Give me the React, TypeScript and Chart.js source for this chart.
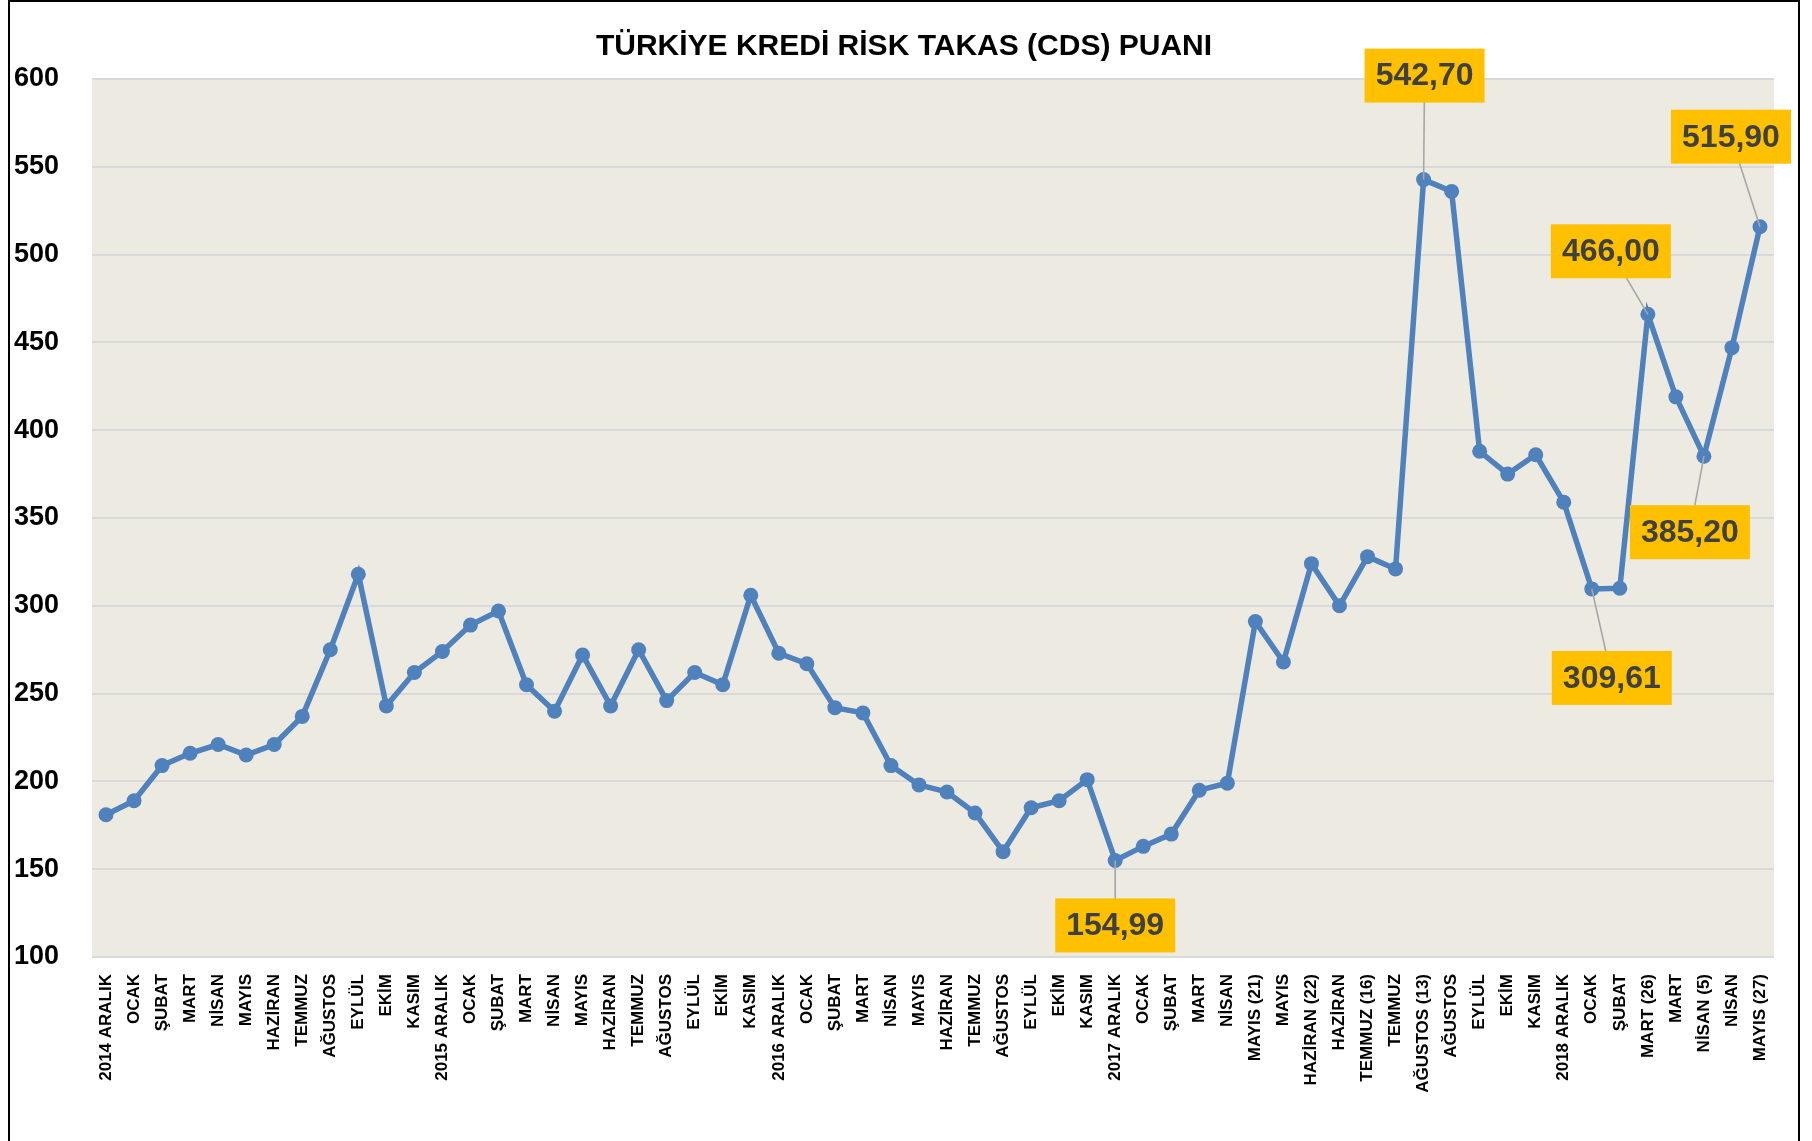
import React, { useEffect, useRef } from "react";
import { Chart, registerables } from "chart.js";

Chart.register(...registerables);

const categories: string[] = [
  "2014 ARALIK", "OCAK", "ŞUBAT", "MART", "NİSAN", "MAYIS", "HAZİRAN", "TEMMUZ", "AĞUSTOS", "EYLÜL", "EKİM", "KASIM",
  "2015 ARALIK", "OCAK", "ŞUBAT", "MART", "NİSAN", "MAYIS", "HAZİRAN", "TEMMUZ", "AĞUSTOS", "EYLÜL", "EKİM", "KASIM",
  "2016 ARALIK", "OCAK", "ŞUBAT", "MART", "NİSAN", "MAYIS", "HAZİRAN", "TEMMUZ", "AĞUSTOS", "EYLÜL", "EKİM", "KASIM",
  "2017 ARALIK", "OCAK", "ŞUBAT", "MART", "NİSAN", "MAYIS (21)", "MAYIS", "HAZİRAN (22)", "HAZİRAN", "TEMMUZ (16)", "TEMMUZ",
  "AĞUSTOS (13)", "AĞUSTOS", "EYLÜL", "EKİM", "KASIM",
  "2018 ARALIK", "OCAK", "ŞUBAT", "MART (26)", "MART", "NİSAN (5)", "NİSAN", "MAYIS (27)",
];

const cdsValues: number[] = [
  181, 189, 209, 216, 221, 215, 221, 237, 275, 318, 243, 262,
  274, 289, 297, 255, 240, 272, 243, 275, 246, 262, 255, 306,
  273, 267, 242, 239, 209, 198, 194, 182, 160, 185, 189, 201,
  154.99, 163, 170, 195, 199, 291, 268, 324, 300, 328, 321,
  542.7, 536, 388, 375, 386,
  359, 309.61, 310, 466.0, 419, 385.2, 447, 515.9,
];

const yTicks = { min: 100, max: 600, step: 50 };

const chartTitle = "TÜRKİYE KREDİ RİSK TAKAS (CDS) PUANI";

// annotated point indices and their label offsets (px) from the point
const calloutIndex: number[] = [36, 47, 53, 55, 57, 59];
const calloutDx: number[] = [0, 1, 20, -37, -14, -29];
const calloutDy: number[] = [65, -104, 89, -63, 76, -90];

const FONT = "'Liberation Sans', Arial, sans-serif";

export default function App() {
  const ref = useRef<HTMLCanvasElement | null>(null);

  useEffect(() => {
    if (!ref.current) return;

    const bgPlugin = {
      id: "bgPlugin",
      beforeDraw(chart: any) {
        const { ctx, chartArea } = chart;
        ctx.save();
        ctx.fillStyle = "#EDEBE1";
        ctx.fillRect(chartArea.left, chartArea.top, chartArea.right - chartArea.left, chartArea.bottom - chartArea.top);
        ctx.restore();
      },
      afterDraw(chart: any) {
        const { ctx } = chart;
        ctx.save();
        ctx.fillStyle = "#000";
        ctx.font = `bold 30px ${FONT}`;
        ctx.textAlign = "center";
        ctx.textBaseline = "middle";
        ctx.fillText(chartTitle, 894, 45);
        ctx.restore();
      },
    };

    const calloutPlugin = {
      id: "calloutPlugin",
      afterDatasetsDraw(chart: any) {
        const { ctx } = chart;
        const meta = chart.getDatasetMeta(0);
        const w = 120;
        const h = 54;
        ctx.save();
        calloutIndex.forEach((idx, i) => {
          const pt = meta.data[idx];
          const cx = pt.x + calloutDx[i];
          const cy = pt.y + calloutDy[i];
          ctx.strokeStyle = "#A6A6A6";
          ctx.lineWidth = 1.6;
          ctx.beginPath();
          ctx.moveTo(pt.x, pt.y);
          ctx.lineTo(cx, cy);
          ctx.stroke();
          ctx.fillStyle = "#FFC000";
          ctx.fillRect(cx - w / 2, cy - h / 2, w, h);
          ctx.fillStyle = "#404040";
          ctx.font = `bold 32px ${FONT}`;
          ctx.textAlign = "center";
          ctx.textBaseline = "middle";
          ctx.fillText(cdsValues[idx].toFixed(2).replace(".", ","), cx, cy + 1);
        });
        ctx.restore();
      },
    };

    const chart = new Chart(ref.current, {
      type: "line",
      data: {
        labels: categories,
        datasets: [
          {
            data: cdsValues,
            borderColor: "#4F81BD",
            backgroundColor: "#4F81BD",
            borderWidth: 5.5,
            pointRadius: 7.5,
            pointBackgroundColor: "#4F81BD",
            pointBorderWidth: 0,
            tension: 0,
          },
        ],
      },
      options: {
        animation: false,
        responsive: false,
        maintainAspectRatio: false,
        layout: { padding: { left: 4, right: 24, top: 77, bottom: 0 } },
        plugins: {
          legend: { display: false },
          tooltip: { enabled: false },
          title: { display: false },
        },
        scales: {
          x: {
            offset: true,
            grid: { display: false, drawTicks: false },
            border: { display: false },
            ticks: {
              autoSkip: false,
              maxRotation: 90,
              minRotation: 90,
              padding: 17,
              color: "#000",
              font: { family: FONT, size: 17, weight: "bold" },
            },
            afterFit(scale: any) {
              scale.height = 184;
            },
          },
          y: {
            min: yTicks.min,
            max: yTicks.max,
            grid: { color: "#D9D9D9", lineWidth: 2, drawTicks: false },
            border: { display: false },
            ticks: {
              stepSize: yTicks.step,
              crossAlign: "far",
              color: "#000",
              font: { family: FONT, size: 27, weight: "bold" },
            },
            afterFit(scale: any) {
              scale.width = 78;
            },
          },
        },
      },
      plugins: [bgPlugin, calloutPlugin],
    } as any);

    return () => chart.destroy();
  }, []);

  return (
    <div
      style={{
        position: "absolute",
        left: 8,
        top: 0,
        width: 1792,
        height: 1170,
        border: "2px solid #000",
        boxSizing: "border-box",
        background: "#fff",
      }}
    >
      <canvas ref={ref} width={1788} height={1139} style={{ display: "block", width: 1788, height: 1139 }} />
    </div>
  );
}
